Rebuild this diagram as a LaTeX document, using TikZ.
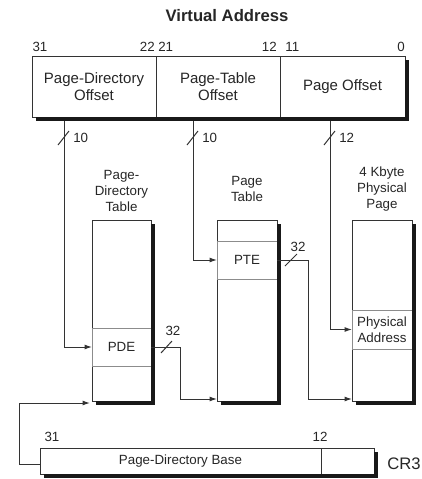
\documentclass[tikz,border=0pt]{standalone}
\usepackage{fontspec}
\setmainfont{Liberation Sans}
\usetikzlibrary{arrows.meta, positioning, calc}

\newcommand{\pxl}{0.6pt}
% drop shadow on the right and bottom of a box running from node #1 to node #2
\newcommand{\boxshadow}[2]{%
    \draw[black!90, line width=4*\pxl, line join=miter] ($(#2.north east)+(2,4)$) -- ($(#2.south east)+(2,2)$) -- ($(#1.south west)+(4,2)$);}

\begin{document}
\begin{tikzpicture}[
        x=0.6pt, y=-0.6pt,
        field/.style={rectangle, draw=black!80, fill=white, line width=0.6pt, outer sep=0pt, inner sep=0pt, align=center, text=black!85, font=\fontsize{9}{10.5}\selectfont, minimum height=61*\pxl},
        tablebox/.style={rectangle, draw=black!80, fill=white, line width=0.6pt, outer sep=0pt, minimum width=60*\pxl, minimum height=181*\pxl},
        entry/.style={rectangle, draw=black!45, fill=white, line width=0.6pt, outer sep=0pt, inner sep=0pt, align=center, text=black!85, font=\fontsize{8}{9.5}\selectfont, minimum width=60*\pxl, minimum height=38*\pxl},
        caption/.style={align=center, inner sep=0pt, text=black!85, font=\fontsize{8}{9.5}\selectfont},
        bits/.style={inner sep=0pt, text=black!85, font=\fontsize{8}{9}\selectfont},
        wire/.style={draw=black!80, line width=0.6pt},
        arrow/.style={wire, -{Latex[length=4.5pt, width=3pt]}}
    ]
        \useasboundingbox (0,0) rectangle (421,479);

        % virtual address
        \node (title) [font=\bfseries\fontsize{10}{12}\selectfont, text=black!85] at (227,16) {Virtual Address};
        \node (pdo) [field, minimum width=124*\pxl] at (94,86.5) {Page-Directory\\Offset};
        \node (pto) [field, minimum width=124*\pxl, right=0pt of pdo] {Page-Table\\Offset};
        \node (poff) [field, minimum width=125*\pxl, right=0pt of pto] {Page Offset};
        \node (b31) [bits] at (40,47) {31};
        \node (b22) [bits, anchor=east] at (155,47) {22};
        \node (b21) [bits, anchor=west] at (158,47) {21};
        \node (b12) [bits, anchor=east] at (277,47) {12};
        \node (b11) [bits, anchor=west] at (285,47) {11};
        \node (b0) [bits, anchor=east] at (405,47) {0};

        % tables
        \node (pdt) [tablebox, minimum width=59*\pxl] at (121.5,310.5) {};
        \node (ptab) [tablebox] at (247,310.5) {};
        \node (ppage) [tablebox] at (382,310.5) {};
        \node (pdtcap) [caption, above=5pt of pdt] {Page-\\Directory\\Table};
        \node (ptabcap) [caption, above=11pt of ptab] {Page\\Table};
        \node (ppagecap) [caption, above=5pt of ppage] {4 Kbyte\\Physical\\Page};
        \node (pde) [entry, minimum width=59*\pxl] at (121.5,347) {PDE};
        \node (pte) [entry] at (247,260) {PTE};
        \node (phys) [entry, minimum height=39*\pxl] at (382,329.5) {Physical\\Address};

        % CR3
        \node (pdb) [field, minimum width=281*\pxl, minimum height=26*\pxl, font=\fontsize{8}{9.5}\selectfont] at (180.5,461) {Page-Directory Base};
        \node (pdblow) [field, minimum width=53*\pxl, minimum height=26*\pxl, right=0pt of pdb] {};
        \node (c31) [bits] at (52,437) {31};
        \node (c12) [bits] at (320,437) {12};
        \node (cr3) [anchor=west, inner sep=0pt, text=black!85, font=\fontsize{10}{12}\selectfont] at (387,464) {CR3};

        \boxshadow{pdo}{poff}
        \boxshadow{pdt}{pdt}
        \boxshadow{ptab}{ptab}
        \boxshadow{ppage}{ppage}
        \boxshadow{pdb}{pdblow}

        % offsets into the tables
        \coordinate (tapdir) at ($(pdo.south west)+(32,0)$);
        \coordinate (taptab) at ($(pto.south west)+(37,0)$);
        \coordinate (tapoff) at ($(poff.south west)+(50,0)$);
        \draw [arrow] ($(tapdir)+(0,4)$) |- (pde.west);
        \draw [arrow] ($(taptab)+(0,4)$) |- (pte.west);
        \draw [arrow] ($(tapoff)+(0,4)$) |- (phys.west);
        \draw [wire] ($(tapdir)+(-6,28)$) -- ++(11,-14);
        \draw [wire] ($(taptab)+(-6,28)$) -- ++(11,-14);
        \draw [wire] ($(tapoff)+(-6,28)$) -- ++(11,-14);
        \node [bits, anchor=west] at ($(tapdir)+(9,21)$) {10};
        \node [bits, anchor=west] at ($(taptab)+(9,21)$) {10};
        \node [bits, anchor=west] at ($(tapoff)+(9,21)$) {12};

        % entries to next level
        \draw [arrow] (pde.east) -- ++(29,0) |- ($(ptab.south west)+(0,-2)$);
        \draw [arrow] (pte.east) -- ++(31,0) |- ($(ppage.south west)+(0,-2)$);
        \draw [wire] ($(pde.east)+(10,6)$) -- ++(11,-12);
        \draw [wire] ($(pte.east)+(8,6)$) -- ++(12,-12);
        \node [bits] at ($(pde.east)+(22,-16)$) {32};
        \node [bits] at ($(pte.east)+(21,-13)$) {32};

        % CR3 to the directory
        \draw [arrow] ($(pdb.west)+(0,3)$) -- ++(-21,0) |- ($(pdt.south west)+(-2,2)$);
    \end{tikzpicture}
\end{document}
